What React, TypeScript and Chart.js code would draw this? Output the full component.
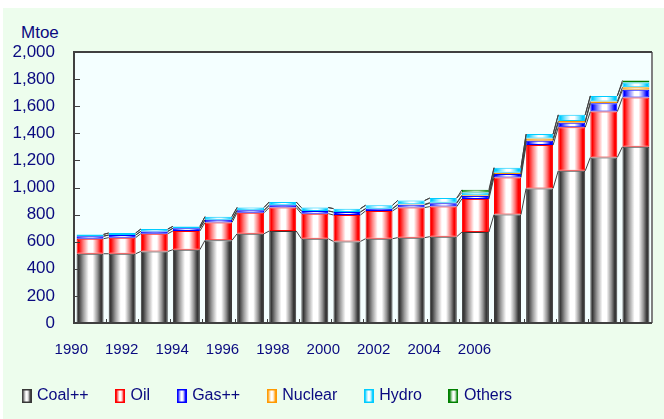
import React, { useEffect, useRef } from "react";
import { Chart, registerables } from "chart.js";

Chart.register(...registerables);

const YEARS = ["1990","1991","1992","1993","1994","1995","1996","1997","1998","1999","2000","2001","2002","2003","2004","2005","2006","2007"];
const COAL = [511, 511, 528, 541, 610, 659, 679, 622, 602, 622, 630, 637, 671, 800, 993, 1123, 1222, 1301];
const OIL = [111, 119, 131, 138, 132, 155, 173, 185, 195, 205, 222, 222, 245, 274, 320, 321, 338, 363];
const GAS = [19, 19, 17, 20, 20, 18, 17, 20, 22, 17, 20, 25, 22, 25, 32, 34, 62, 57];
const NUCLEAR = [0, 0, 0, 0, 0, 0, 0, 0, 0, 0, 4, 4, 5, 9, 17, 12, 12, 19];
const HYDRO = [13, 15, 17, 14, 23, 21, 24, 25, 25, 25, 28, 34, 20, 38, 32, 46, 42, 35];
const OTHERS = [0, 0, 0, 0, 0, 0, 0, 0, 0, 0, 0, 0, 20, 0, 0, 0, 0, 15];
const SERIES_NAMES = ["Coal++", "Oil", "Gas++", "Nuclear", "Hydro", "Others"];
const X_TICK_LABELS = ["1990", "1992", "1994", "1996", "1998", "2000", "2002", "2004", "2006"];
const Y_TICKS_STEP = 200;
const UNIT_LABEL = "Mtoe";

const COLORS = ["#383838", "#FF0000", "#0000FF", "#FF9900", "#00CCFF", "#008000"];
const TEXT = "#0A0A80";
const FONT = "'Liberation Sans', Arial, sans-serif";
const BAR_PCT = 0.84;

function hexToRgb(h: string) {
  const n = parseInt(h.slice(1), 16);
  return [(n >> 16) & 255, (n >> 8) & 255, n & 255];
}
function mix(h: string, t: number) {
  const [r, g, b] = hexToRgb(h);
  const m = (c: number) => Math.round(c + (255 - c) * t);
  return `rgb(${m(r)},${m(g)},${m(b)})`;
}
function addStops(g: CanvasGradient, base: string) {
  g.addColorStop(0, base);
  g.addColorStop(0.08, base);
  g.addColorStop(0.25, mix(base, 0.5));
  g.addColorStop(0.45, "#ffffff");
  g.addColorStop(0.6, "#ffffff");
  g.addColorStop(0.78, mix(base, 0.45));
  g.addColorStop(0.9, base);
  g.addColorStop(1, base);
}

function barFill(base: string) {
  return (c: any) => {
    const chart = c.chart;
    const area = chart.chartArea;
    if (!area || c.dataIndex == null || !chart.scales.x) return base;
    const cx = chart.scales.x.getPixelForValue(c.dataIndex);
    const w = ((area.right - area.left) / YEARS.length) * BAR_PCT;
    const g = chart.ctx.createLinearGradient(cx - w / 2, 0, cx + w / 2, 0);
    addStops(g, base);
    return g;
  };
}

function legendSymbol(base: string) {
  const cv = document.createElement("canvas");
  cv.width = 10;
  cv.height = 14;
  const ctx = cv.getContext("2d")!;
  const g = ctx.createLinearGradient(0, 0, 10, 0);
  addStops(g, base);
  ctx.fillStyle = g;
  ctx.fillRect(0, 0, 10, 14);
  ctx.strokeStyle = base;
  ctx.lineWidth = 1.5;
  ctx.strokeRect(0.75, 0.75, 8.5, 12.5);
  return cv;
}

const plotFrame = {
  id: "plotFrame",
  beforeDatasetsDraw(chart: any) {
    const { ctx, chartArea: a } = chart;
    ctx.save();
    ctx.fillStyle = "#F4FFFF";
    ctx.fillRect(a.left, a.top, a.right - a.left, a.bottom - a.top);
    ctx.restore();
  },
  afterDatasetsDraw(chart: any) {
    const { ctx, chartArea: a } = chart;
    ctx.save();
    ctx.strokeStyle = "#404040";
    ctx.lineWidth = 1;
    chart.data.datasets.forEach((_: any, di: number) => {
      const meta = chart.getDatasetMeta(di);
      for (let i = 0; i < meta.data.length - 1; i++) {
        const b0 = meta.data[i];
        const b1 = meta.data[i + 1];
        ctx.beginPath();
        ctx.moveTo(b0.x + b0.width / 2, b0.y);
        ctx.lineTo(b1.x - b1.width / 2, b1.y);
        ctx.stroke();
      }
    });
    const y = chart.scales.y;
    for (let v = Y_TICKS_STEP; v < 2000; v += Y_TICKS_STEP) {
      const py = Math.round(y.getPixelForValue(v)) + 0.5;
      ctx.beginPath();
      ctx.moveTo(a.left, py);
      ctx.lineTo(a.left + 6, py);
      ctx.stroke();
    }
    const x = chart.scales.x;
    const step = (a.right - a.left) / YEARS.length;
    for (let i = 1; i < YEARS.length; i++) {
      const px = Math.round(x.getPixelForValue(i) - step / 2) + 0.5;
      ctx.beginPath();
      ctx.moveTo(px, a.bottom);
      ctx.lineTo(px, a.bottom - 4);
      ctx.stroke();
    }
    ctx.lineWidth = 2;
    ctx.strokeStyle = "#808080";
    ctx.beginPath();
    ctx.moveTo(a.right, a.top);
    ctx.lineTo(a.right, a.bottom);
    ctx.stroke();
    ctx.strokeStyle = "#404040";
    ctx.beginPath();
    ctx.moveTo(a.right, a.top);
    ctx.lineTo(a.left, a.top);
    ctx.lineTo(a.left, a.bottom);
    ctx.lineTo(a.right, a.bottom);
    ctx.stroke();
    ctx.restore();
  },
};

export default function App() {
  const ref = useRef<HTMLCanvasElement>(null);
  useEffect(() => {
    document.body.style.margin = "0";
    const series = [COAL, OIL, GAS, NUCLEAR, HYDRO, OTHERS];
    const chart = new Chart(ref.current!, {
      type: "bar",
      data: {
        labels: YEARS,
        datasets: series.map((d, i) => ({
          label: SERIES_NAMES[i],
          data: d,
          backgroundColor: barFill(COLORS[i]),
          borderColor: COLORS[i],
          borderWidth: 1,
          borderSkipped: false,
          barPercentage: BAR_PCT,
          categoryPercentage: 1,
          xAxisID: "x",
          yAxisID: "y",
        })),
      },
      options: {
        responsive: false,
        animation: false,
        devicePixelRatio: 1,
        layout: { padding: { top: 52, right: 12, bottom: 5, left: 0 } },
        plugins: {
          tooltip: { enabled: false },
          legend: {
            position: "bottom",
            align: "start",
            labels: {
              usePointStyle: true,
              pointStyleWidth: 5,
              boxWidth: 10,
              boxHeight: 14,
              padding: 29,
              color: TEXT,
              font: { family: FONT, size: 16 },
              generateLabels: (ch: any) =>
                ch.data.datasets.map((ds: any, i: number) => ({
                  text: ds.label,
                  fillStyle: COLORS[i],
                  strokeStyle: COLORS[i],
                  lineWidth: 0,
                  pointStyle: legendSymbol(COLORS[i]),
                  datasetIndex: i,
                  hidden: false,
                  fontColor: TEXT,
                })),
            },
          },
        },
        scales: {
          x: {
            display: false,
            stacked: true,
            offset: true,
          },
          x2: {
            type: "linear",
            position: "bottom",
            offset: false,
            min: 1990.107,
            max: 2013.044,
            grid: { display: false, drawTicks: false, offset: false },
            border: { display: false },
            afterBuildTicks: (s: any) => {
              s.ticks = X_TICK_LABELS.map((l) => ({ value: Number(l) }));
            },
            afterFit: (s: any) => {
              s.height = 36;
            },
            ticks: {
              autoSkip: false,
              maxRotation: 0,
              padding: 18,
              color: TEXT,
              font: { family: FONT, size: 15 },
              callback: (_v: any, i: number) => X_TICK_LABELS[i],
            },
          },
          y: {
            stacked: true,
            min: 0,
            max: 2000,
            grid: { display: false, drawTicks: false },
            border: { display: false },
            afterFit: (s: any) => {
              s.width = 79;
            },
            ticks: {
              stepSize: Y_TICKS_STEP,
              padding: 19,
              color: TEXT,
              font: { family: FONT, size: 17 },
            },
          },
        },
      },
      plugins: [plotFrame],
    } as any);
    return () => chart.destroy();
  }, []);

  return (
    <div style={{ position: "fixed", left: 0, top: 0, width: 664, height: 419, background: "#ffffff", overflow: "hidden" }}>
      <div style={{ position: "absolute", left: 3, top: 8, right: 0, bottom: 0, background: "#EDFDED" }} />
      <div
        style={{
          position: "absolute",
          left: 21,
          top: 24,
          fontFamily: FONT,
          fontSize: 17,
          lineHeight: "17px",
          color: TEXT,
        }}
      >
        {UNIT_LABEL}
      </div>
      <canvas ref={ref} width={669} height={419} style={{ position: "absolute", left: -5, top: 0 }} />
    </div>
  );
}
